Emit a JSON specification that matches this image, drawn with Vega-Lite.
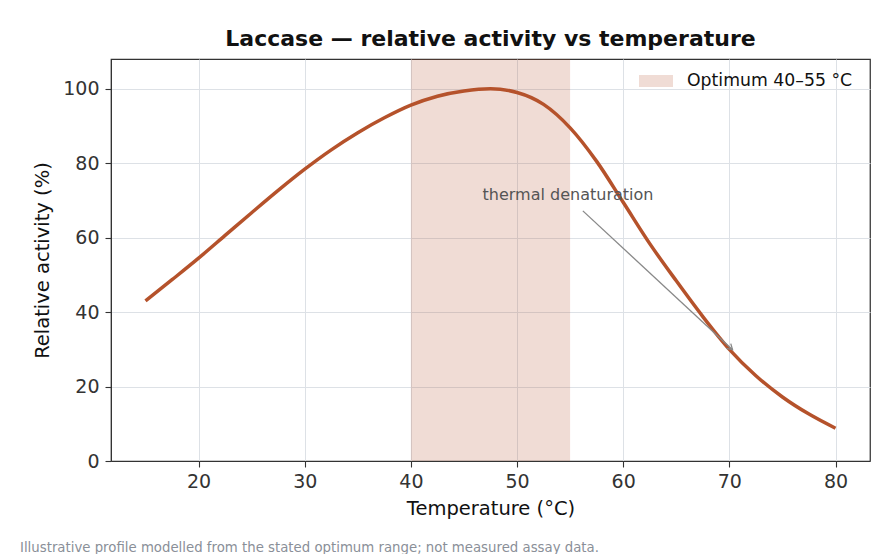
{
  "$schema": "https://vega.github.io/schema/vega-lite/v6.json",
  "autosize": {"type": "pad"},
  "padding": {"left": 20, "top": 27, "right": 8, "bottom": 0},
  "background": "white",
  "config": {
    "font": "DejaVu Sans",
    "view": {"stroke": "#333333", "strokeWidth": 1.25},
    "axis": {
      "domainColor": "#333333", "tickColor": "#333333", "tickSize": 6, "tickWidth": 1.1,
      "grid": true, "gridColor": "#dde1e6", "gridWidth": 1,
      "labelFont": "DejaVu Sans", "labelFontSize": 19, "labelColor": "#333333",
      "titleFont": "DejaVu Sans", "titleFontSize": 19.5, "titleFontWeight": "normal", "titleColor": "#111111"
    }
  },
  "title": {
    "text": "Illustrative profile modelled from the stated optimum range; not measured assay data.",
    "orient": "bottom", "anchor": "start", "frame": "group", "dx": -91,
    "fontSize": 13.3, "fontWeight": "normal", "color": "#8a8f98", "font": "DejaVu Sans", "offset": 23
  },
  "datasets": {
    "curve": [
      {"T": 15, "v": 43.0}, {"T": 17.5, "v": 48.7}, {"T": 20, "v": 54.5}, {"T": 22.5, "v": 60.6},
      {"T": 25, "v": 66.7}, {"T": 27.5, "v": 72.7}, {"T": 30, "v": 78.4}, {"T": 32.5, "v": 83.6},
      {"T": 35, "v": 88.2}, {"T": 37.5, "v": 92.2}, {"T": 40, "v": 95.6}, {"T": 42.5, "v": 98.0},
      {"T": 45, "v": 99.4}, {"T": 47.5, "v": 100.0}, {"T": 50, "v": 99.0}, {"T": 52.5, "v": 95.8},
      {"T": 55, "v": 89.5}, {"T": 57.5, "v": 80.5}, {"T": 60, "v": 69.5}, {"T": 62.5, "v": 58.4},
      {"T": 65, "v": 48.4}, {"T": 67.5, "v": 38.8}, {"T": 70, "v": 30.0}, {"T": 72.5, "v": 22.9},
      {"T": 75, "v": 17.2}, {"T": 77.5, "v": 12.6}, {"T": 80, "v": 8.8}
    ]
  },
  "vconcat": [
    {
      "width": 759,
      "height": 402,
      "title": {"text": "Laccase — relative activity vs temperature", "fontSize": 22, "fontWeight": "bold", "color": "#111111", "offset": 8, "anchor": "middle"},
      "layer": [
        {
          "data": {"values": [{"x0": 40, "x1": 55, "label": "Optimum 40–55 °C"}]},
          "mark": {"type": "rect", "opacity": 0.2},
          "encoding": {
            "x": {"field": "x0", "type": "quantitative", "scale": {"domain": [11.75, 83.25], "nice": false, "zero": false},
                  "axis": {"values": [20, 30, 40, 50, 60, 70, 80], "title": "Temperature (°C)", "labelPadding": 5, "titlePadding": 8, "grid": true}},
            "x2": {"field": "x1"},
            "y": {"datum": 0, "type": "quantitative", "scale": {"domain": [0, 108], "nice": false},
                  "axis": {"values": [0, 20, 40, 60, 80, 100], "title": "Relative activity (%)", "labelPadding": 6, "titlePadding": 10, "grid": true}},
            "y2": {"datum": 108},
            "color": {"field": "label", "type": "nominal", "scale": {"range": ["#b5522b"]},
                      "legend": {"title": null, "orient": "none", "legendX": 528, "legendY": 5, "padding": 0,
                                 "symbolType": "M-1,-0.36L1,-0.36L1,0.36L-1,0.36Z", "symbolSize": 1156,
                                 "symbolOpacity": 0.2, "symbolStrokeWidth": 0, "labelFontSize": 17.3, "labelLimit": 400,
                                 "labelColor": "#111111", "labelOffset": 14, "labelFont": "DejaVu Sans"}}
          }
        },
        {
          "data": {"name": "curve"},
          "mark": {"type": "line", "color": "#b5522b", "strokeWidth": 3.5, "interpolate": "monotone"},
          "encoding": {
            "x": {"field": "T", "type": "quantitative"},
            "y": {"field": "v", "type": "quantitative"}
          }
        },
        {
          "data": {"values": [{"x": 56.2, "y": 67.2, "x2": 70.3, "y2": 29.9}]},
          "mark": {"type": "rule", "color": "#888888", "strokeWidth": 1.3},
          "encoding": {
            "x": {"field": "x", "type": "quantitative"},
            "y": {"field": "y", "type": "quantitative"},
            "x2": {"field": "x2"},
            "y2": {"field": "y2"}
          }
        },
        {
          "data": {"values": [{"x": 70.3, "y": 29.9}]},
          "mark": {"type": "point", "shape": "M-1,-0.6L0,0L-1,0.6", "angle": 43, "size": 120, "filled": false, "stroke": "#888888", "strokeWidth": 1.3, "opacity": 1},
          "encoding": {
            "x": {"field": "x", "type": "quantitative"},
            "y": {"field": "y", "type": "quantitative"}
          }
        },
        {
          "data": {"values": [{"x": 54.8, "y": 71.5, "t": "thermal denaturation"}]},
          "mark": {"type": "text", "fontSize": 16, "color": "#555555", "align": "center", "baseline": "middle", "font": "DejaVu Sans"},
          "encoding": {
            "x": {"field": "x", "type": "quantitative"},
            "y": {"field": "y", "type": "quantitative"},
            "text": {"field": "t"}
          }
        }
      ]
    }
  ]
}
